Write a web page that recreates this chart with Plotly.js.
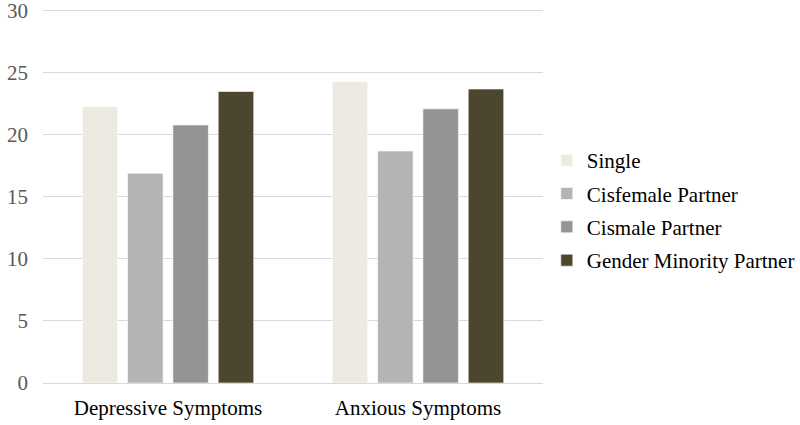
<!DOCTYPE html>
<html>
<head>
<meta charset="utf-8">
<script src="https://cdn.plot.ly/plotly-3.0.1.min.js"></script>
<style>html,body{margin:0;padding:0;background:#fff;}#chart{width:800px;height:425px;}</style>
</head>
<body>
<div id="chart"></div>
<script>
const categories = ["Depressive Symptoms", "Anxious Symptoms"];
const seriesNames = ["Single", "Cisfemale Partner", "Cismale Partner", "Gender Minority Partner"];
const single = [22.3, 24.3];
const cisfemale = [16.9, 18.7];
const cismale = [20.8, 22.1];
const genderMinority = [23.5, 23.7];
const yTicks = [0, 5, 10, 15, 20, 25, 30];

const colors = ["#EDEBE1", "#B4B4B4", "#949494", "#4B462D"];
const seriesValues = [single, cisfemale, cismale, genderMinority];

const traces = seriesValues.map((vals, i) => ({
  type: "bar",
  name: seriesNames[i],
  x: categories,
  y: vals,
  legendgroup: "g" + i,
  marker: {color: colors[i], line: {color: "rgba(255,255,255,0.6)", width: 1}},
  hoverinfo: "none"
}));

const font = "Liberation Serif, Times New Roman, serif";
const layout = {
  width: 800, height: 425,
  margin: {l: 43, r: 257, t: 9, b: 42, autoexpand: false},
  paper_bgcolor: "#fff", plot_bgcolor: "#fff",
  barmode: "group",
  bargap: 0.275,
  bargroupgap: 0.216,
  font: {family: font, size: 21, color: "#000"},
  xaxis: {
    showgrid: false, zeroline: false, showline: false,
    ticks: "", tickfont: {family: font, size: 21, color: "#000"},
    ticklabelstandoff: 10
  },
  yaxis: {
    range: [0, 30.15], tickvals: yTicks, ticktext: yTicks.map(String),
    showgrid: true, gridcolor: "#D9D9D9", gridwidth: 1,
    zeroline: true, zerolinecolor: "#D9D9D9", zerolinewidth: 1,
    showline: false, ticks: "",
    tickfont: {family: font, size: 21, color: "#595959"},
    ticklabelstandoff: 14,
    ticklabeloverflow: "allow"
  },
  showlegend: true,
  legend: {
    xref: "container", x: 0.6835, xanchor: "left", y: 0.461, yanchor: "middle",
    font: {family: font, size: 21, color: "#000"},
    tracegroupgap: 3, traceorder: "grouped",
    bgcolor: "rgba(0,0,0,0)"
  }
};

Plotly.newPlot("chart", traces, layout, {staticPlot: true, displayModeBar: false});
</script>
</body>
</html>
